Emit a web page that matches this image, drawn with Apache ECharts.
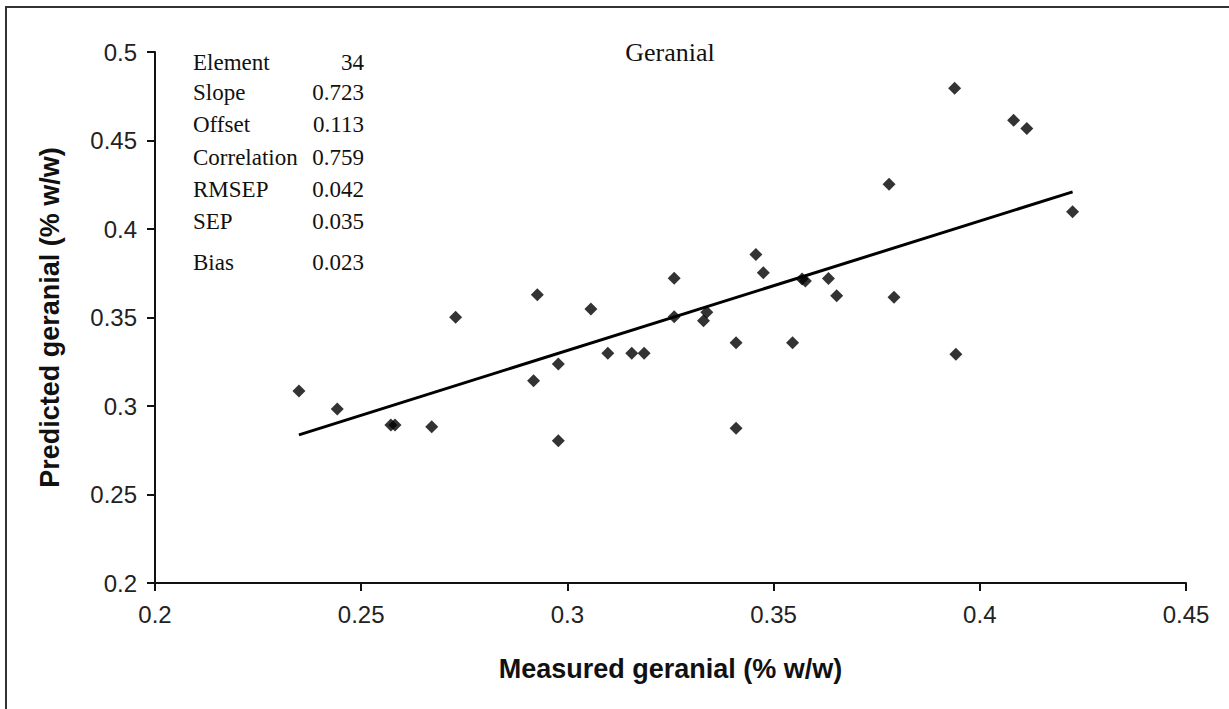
<!DOCTYPE html>
<html>
<head>
<meta charset="utf-8">
<script src="https://cdn.jsdelivr.net/npm/echarts@6/dist/echarts.min.js"></script>
<style>
html,body{margin:0;padding:0;background:#fff;}
#chart{width:1229px;height:709px;}
</style>
</head>
<body>
<div id="chart"></div>
<script>
// Measured vs predicted geranial (% w/w)
const measured = [0.2349,0.2442,0.2572,0.2582,0.2671,0.2729,0.2927,0.2918,0.2978,0.2978,
  0.3057,0.3098,0.3156,0.3186,0.3259,0.3259,0.3330,0.3338,0.3409,0.3409,
  0.3457,0.3475,0.3569,0.3577,0.3633,0.3653,0.3546,0.3780,0.3792,0.3939,
  0.3942,0.4082,0.4114,0.4225];
const predicted = [0.3085,0.2983,0.2893,0.2893,0.2883,0.3501,0.3628,0.3143,0.3237,0.2804,
  0.3548,0.3298,0.3298,0.3298,0.3722,0.3504,0.3482,0.3529,0.3357,0.2874,
  0.3856,0.3753,0.3717,0.3706,0.3721,0.3623,0.3357,0.4253,0.3614,0.4795,
  0.3292,0.4614,0.4568,0.4097];
const fitX = [0.2349,0.4225];
const fitY = [0.2837,0.4210];
const xTicks = [0.2,0.25,0.3,0.35,0.4,0.45];
const yTicks = [0.2,0.25,0.3,0.35,0.4,0.45,0.5];
const statLabels = ['Element','Slope','Offset','Correlation','RMSEP','SEP','Bias'];
const statValues = ['34','0.723','0.113','0.759','0.042','0.035','0.023'];
const statRowY = [62,92,124,157,189,221,262];
const titleText = 'Geranial';
const xName = 'Measured geranial (% w/w)';
const yName = 'Predicted geranial (% w/w)';

const chart = echarts.init(document.getElementById('chart'), null, {renderer:'svg'});
const points = measured.map((m,i)=>[m,predicted[i]]);
const fit = fitX.map((x,i)=>[x,fitY[i]]);

const serif = '"Liberation Serif","DejaVu Serif",serif';
const sans = '"Liberation Sans",Arial,sans-serif';

const graphics = [
  {type:'polyline', shape:{points:[[6,709],[6,7],[1229,7]]}, style:{stroke:'#333',lineWidth:2,fill:null}, silent:true},
  {type:'text', x:670, y:52, style:{text:titleText, font:'26px '+serif, fill:'#111', textAlign:'center', textVerticalAlign:'middle'}}
];
statLabels.forEach((lab,i)=>{
  graphics.push({type:'text', x:193, y:statRowY[i], style:{text:lab, font:'23px '+serif, fill:'#111', textAlign:'left', textVerticalAlign:'middle'}});
  graphics.push({type:'text', x:364, y:statRowY[i], style:{text:statValues[i], font:'23px '+serif, fill:'#111', textAlign:'right', textVerticalAlign:'middle'}});
});

chart.setOption({
  backgroundColor:'#fff',
  animation:false,
  grid:{left:155, right:43, top:52, bottom:126, containLabel:false},
  xAxis:{
    type:'value', min:0.2, max:0.45, interval:0.05,
    name:xName, nameLocation:'middle', nameGap:72,
    nameTextStyle:{fontFamily:sans, fontWeight:'bold', fontSize:27, color:'#111'},
    axisLine:{show:true, onZero:false, lineStyle:{color:'#111', width:2}},
    axisTick:{show:true, inside:false, length:8, lineStyle:{color:'#111', width:2}},
    axisLabel:{fontFamily:sans, fontSize:24, color:'#222', margin:19,
      formatter:v=>{const t=xTicks.find(a=>Math.abs(a-v)<1e-9); return t===undefined?'':String(t);}},
    splitLine:{show:false}
  },
  yAxis:{
    type:'value', min:0.2, max:0.5, interval:0.05,
    name:yName, nameLocation:'middle', nameGap:92, nameRotate:90,
    nameTextStyle:{fontFamily:sans, fontWeight:'bold', fontSize:27, color:'#111'},
    axisLine:{show:true, onZero:false, lineStyle:{color:'#111', width:2}},
    axisTick:{show:true, inside:false, length:8, lineStyle:{color:'#111', width:2}},
    axisLabel:{fontFamily:sans, fontSize:24, color:'#222', margin:18,
      formatter:v=>{const t=yTicks.find(a=>Math.abs(a-v)<1e-9); return t===undefined?'':String(t);}},
    splitLine:{show:false}
  },
  series:[
    {type:'line', data:fit, showSymbol:false, symbol:'none', lineStyle:{color:'#000', width:3}, z:2, silent:true},
    {type:'scatter', data:points, symbol:'diamond', symbolSize:13, itemStyle:{color:'#000'}, z:3}
  ],
  graphic:graphics
});
</script>
</body>
</html>
